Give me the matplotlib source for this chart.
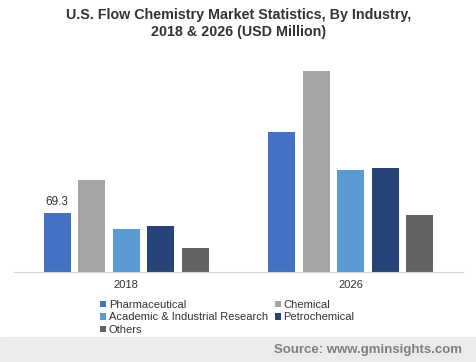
import matplotlib.pyplot as plt
import numpy as np

plt.rcParams['font.family'] = ['Liberation Sans', 'DejaVu Sans']

years = ['2018', '2026']
segments = ['Pharmaceutical', 'Chemical', 'Academic & Industrial Research',
            'Petrochemical', 'Others']
pharma = [69.3, 163.6]
chemical = [107.5, 235.0]
academic = [50.3, 119.0]
petro = [53.8, 121.5]
others = [28.0, 66.6]
colors = ['#4472C4', '#A5A5A5', '#5B9BD5', '#264478', '#636363']

series = [pharma, chemical, academic, petro, others]

fig = plt.figure(figsize=(4.77, 3.62), dpi=100)
ax = fig.add_axes([14 / 477, (362 - 272) / 362, 449 / 477, 214 / 362])

x = np.arange(len(years))
pitch = 0.154
width = 0.12
handles = []
for i, (vals, name, c) in enumerate(zip(series, segments, colors)):
    handles.append(ax.bar(x + (i - 2) * pitch, vals, width, color=c, label=name))

# only the first value is labelled in the original
ax.text(x[0] - 2 * pitch, pharma[0] + 5, f'{pharma[0]}', ha='center', va='bottom',
        fontsize=8.5, color='#333333')

ax.set_xlim(-0.5, 1.5)
ax.set_ylim(0, 250)
ax.set_yticks([])
ax.set_xticks(x)
ax.set_xticklabels(years, fontsize=8, color='#333333')
ax.tick_params(axis='x', length=0, pad=6)
for s in ['top', 'right', 'left']:
    ax.spines[s].set_visible(False)
ax.spines['bottom'].set_color('#d9d9d9')

fig.suptitle('U.S. Flow Chemistry Market Statistics, By Industry,\n2018 & 2026 (USD Million)',
             fontsize=10.3, fontweight='bold', color='#333333', y=0.978, linespacing=1.3)

# row-major order: legend fills columns first
order = [0, 2, 4, 1, 3]
leg = fig.legend([handles[i] for i in order], [segments[i] for i in order],
                 loc='upper left', bbox_to_anchor=(100 / 477, 1 - 300 / 362), ncol=2,
                 frameon=False, fontsize=8, handlelength=0.55, handleheight=0.55,
                 handletextpad=0.25, columnspacing=0.6, labelspacing=0.22,
                 borderpad=0, borderaxespad=0)
for t in leg.get_texts():
    t.set_color('#333333')

# grey footer band with the source note
fig.patches.append(plt.Rectangle((0, 0), 1, 25 / 362, transform=fig.transFigure,
                                 color='#ebebeb', zorder=0))
fig.text(0.968, 12 / 362, 'Source: www.gminsights.com', ha='right', va='center',
         fontsize=9.5, fontweight='bold', color='#7f7f7f')

fig.savefig('out.png', dpi=100)
